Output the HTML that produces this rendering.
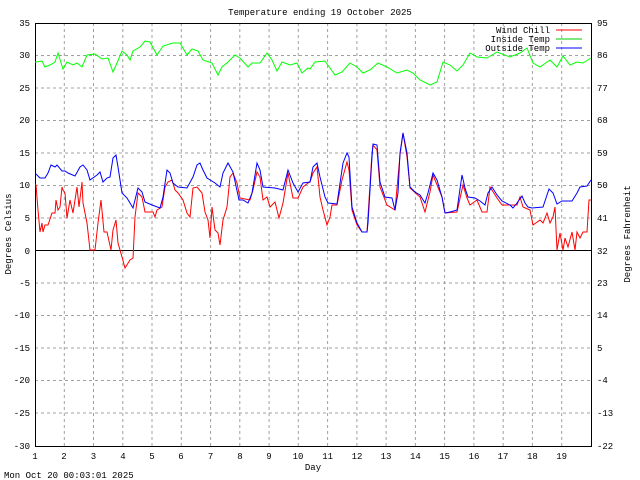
<!DOCTYPE html>
<html><head><meta charset="utf-8"><style>
html,body{margin:0;padding:0;background:#fff}
svg{display:block}
text{font-family:"Liberation Mono","DejaVu Sans Mono",monospace;font-size:9px;fill:#000}
</style></head><body>
<svg width="640" height="480" viewBox="0 0 640 480" xmlns="http://www.w3.org/2000/svg">
<rect width="640" height="480" fill="#fff"/>
<g stroke="#a0a0a0" stroke-width="1" stroke-dasharray="3,3" fill="none">
<path d="M35 55.5H591M35 88H591M35 120.5H591M35 153H591M35 185.5H591M35 218H591M35 283H591M35 315.5H591M35 348H591M35 380.5H591M35 413H591"/>
<path d="M64.3 23V446M93.5 23V446M122.8 23V446M152 23V446M181.3 23V446M210.6 23V446M239.8 23V446M269.1 23V446M298.3 23V446M327.6 23V446M356.9 23V446M386.1 23V446M415.4 23V446M444.6 23V446M473.9 23V446M503.2 23V446M532.4 23V446M561.7 23V446"/>
</g>
<line x1="35" y1="250.5" x2="591" y2="250.5" stroke="#000"/>
<rect x="35.5" y="23.5" width="556" height="423" fill="none" stroke="#000"/>
<g font-size="9">
<text x="320" y="15" text-anchor="middle">Temperature ending 19 October 2025</text>
<g text-anchor="end">
<text x="30" y="26">35</text><text x="30" y="58">30</text><text x="30" y="91">25</text><text x="30" y="123">20</text><text x="30" y="156">15</text><text x="30" y="188">10</text><text x="30" y="221">5</text><text x="30" y="254">0</text><text x="30" y="286">-5</text><text x="30" y="318">-10</text><text x="30" y="351">-15</text><text x="30" y="383">-20</text><text x="30" y="416">-25</text><text x="30" y="449">-30</text>
</g>
<g>
<text x="597" y="26">95</text><text x="597" y="58">86</text><text x="597" y="91">77</text><text x="597" y="123">68</text><text x="597" y="156">59</text><text x="597" y="188">50</text><text x="597" y="221">41</text><text x="597" y="254">32</text><text x="597" y="286">23</text><text x="597" y="318">14</text><text x="597" y="351">5</text><text x="597" y="383">-4</text><text x="597" y="416">-13</text><text x="597" y="449">-22</text>
</g>
<g text-anchor="middle">
<text x="35" y="459">1</text><text x="64" y="459">2</text><text x="93.5" y="459">3</text><text x="123" y="459">4</text><text x="152" y="459">5</text><text x="181" y="459">6</text><text x="210.6" y="459">7</text><text x="240" y="459">8</text><text x="269" y="459">9</text><text x="298" y="459">10</text><text x="327.6" y="459">11</text><text x="357" y="459">12</text><text x="386" y="459">13</text><text x="415.4" y="459">14</text><text x="444.6" y="459">15</text><text x="474" y="459">16</text><text x="503" y="459">17</text><text x="532.4" y="459">18</text><text x="561.7" y="459">19</text>
<text x="313" y="470">Day</text>
</g>
<text x="4" y="478">Mon Oct 20 00:03:01 2025</text>
<text transform="translate(11,234) rotate(-90)" text-anchor="middle">Degrees Celsius</text>
<text transform="translate(630,234) rotate(-90)" text-anchor="middle">Degrees Fahrenheit</text>
<g text-anchor="end">
<text x="550" y="33">Wind Chill</text><text x="550" y="42">Inside Temp</text><text x="550" y="51">Outside Temp</text>
</g>
</g>
<line x1="556" y1="30" x2="582" y2="30" stroke="#f00"/>
<line x1="556" y1="39" x2="582" y2="39" stroke="#0c0"/>
<line x1="556" y1="48" x2="582" y2="48" stroke="#00f"/>
<g fill="none" stroke-width="1">
<polyline stroke="#0f0" points="35,62 36,62 42,61 45,67 50,65 55,62 58,53 63,69 67,62 73,65 77,63 82,67 87,55 95,54 102,59 108,58 113,72 117,63 122,51 127,55 130,60 133,51 140,47 145,41 150,42 157,55 163,46 173,43 180,43 187,55 192,49 198,51 203,60 212,63 218,75 222,67 228,62 235,55 240,58 248,67 252,63 260,63 267,53 272,60 277,71 282,62 290,65 297,63 302,73 308,68 310,69 315,62 325,61 335,75 342,72 350,63 357,67 363,73 370,70 378,63 387,67 397,73 407,70 413,73 420,80 430,85 437,82 443,62 450,65 457,71 463,65 470,53 477,57 487,58 497,52 510,57 520,53 527,48 533,63 540,67 550,60 557,67 563,56 570,65 577,62 583,63 591,58"/>
<polyline stroke="#f00" points="35,185 36,185 38,210 40,232 42,223 43,232 45,225 48,225 52,213 55,213 56,200 58,210 60,207 62,187 63,190 65,193 67,218 70,200 73,213 77,187 79,207 82,182 83,203 87,223 90,250 95,250 98,223 101,200 104,232 107,232 111,250 113,230 116,220 118,243 122,257 125,268 130,260 133,258 135,217 138,193 142,197 145,212 153,212 155,217 157,210 162,207 165,187 168,182 172,180 175,190 178,193 183,200 187,213 190,217 193,188 197,187 202,193 205,212 208,220 210,238 212,207 215,230 218,233 220,245 223,220 227,207 230,177 233,173 237,183 240,198 250,200 253,190 257,172 260,177 263,200 267,197 270,207 275,202 279,218 283,203 288,173 293,198 298,198 303,187 308,183 310,182 313,173 317,167 320,197 323,210 327,225 330,217 332,205 337,205 342,180 347,162 349,170 352,210 357,225 362,232 367,232 372,153 373,145 377,150 380,187 387,205 395,210 400,155 403,133 407,157 410,188 420,197 425,212 430,192 433,175 442,197 445,213 457,212 463,185 467,198 470,205 477,200 482,212 487,212 490,187 497,198 502,205 517,205 520,197 523,207 530,210 533,225 540,220 543,223 547,213 550,223 553,217 555,207 557,250 560,233 563,250 565,238 568,247 572,232 575,250 577,232 580,238 583,232 587,232 589,200 591,200"/>
<polyline stroke="#00f" points="35,174 36,174 40,178 45,178 48,173 51,165 55,167 57,165 62,171 65,171 68,173 75,176 80,167 83,165 87,170 90,180 97,175 100,172 103,182 107,178 110,177 113,158 116,155 118,167 122,193 127,198 133,208 138,188 142,192 145,202 152,205 160,208 163,197 167,170 170,173 173,183 178,187 187,188 193,177 197,165 200,163 203,170 207,178 215,183 220,187 223,173 228,163 233,172 239,200 243,200 248,203 252,193 257,163 260,170 263,187 275,188 283,190 288,170 293,183 298,192 303,183 310,182 313,167 317,163 320,177 325,197 328,203 337,204 338,197 343,163 347,153 349,157 352,207 357,223 362,232 367,232 368,223 372,157 373,144 377,145 380,182 385,197 392,198 395,210 398,193 400,153 403,133 407,153 410,187 415,192 420,195 425,203 428,193 433,173 437,180 442,197 445,213 450,212 457,210 462,175 465,188 468,197 475,198 480,201 485,205 488,193 492,187 497,195 502,201 510,205 513,208 517,203 522,196 525,203 528,207 532,208 543,207 549,189 553,193 557,204 562,201 572,201 577,193 580,187 587,186 591,180"/>
</g>
</svg>
</body></html>
